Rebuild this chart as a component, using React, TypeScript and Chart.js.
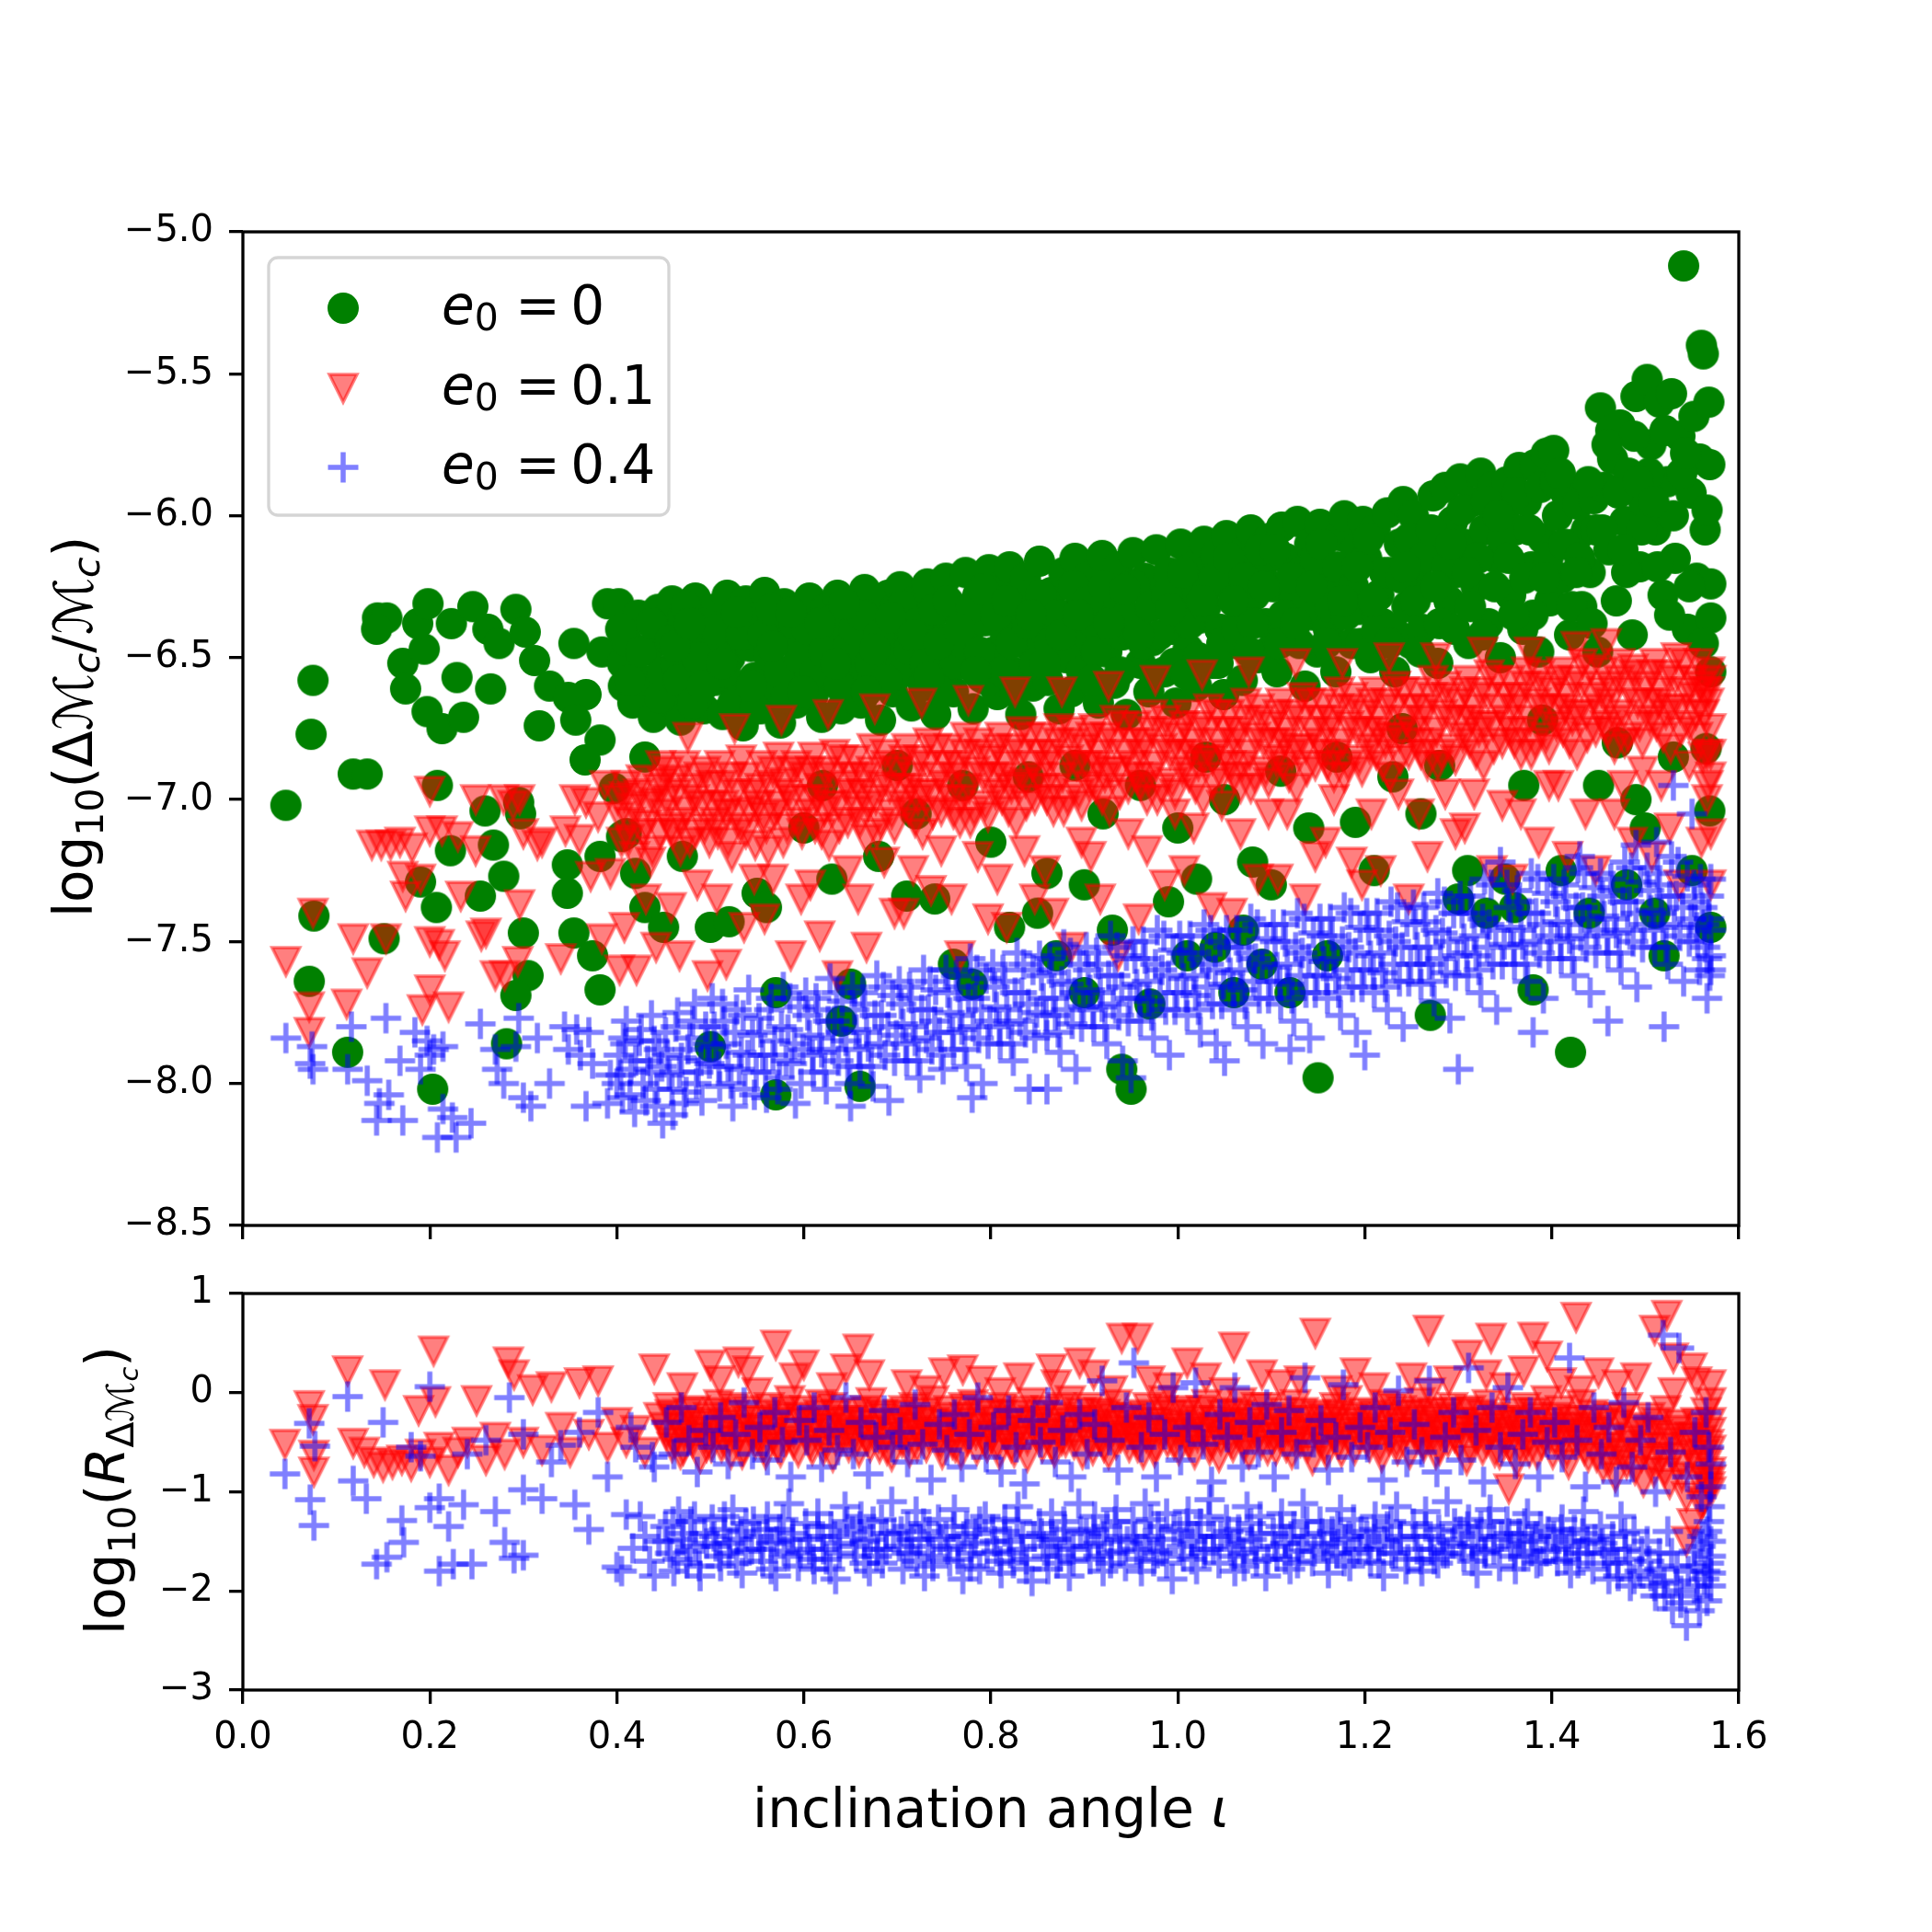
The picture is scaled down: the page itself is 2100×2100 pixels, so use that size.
import { useEffect, useRef } from 'react'
import { Chart, registerables } from 'chart.js'

Chart.register(...registerables)

type Pt = [number, number]

const X_TICKS = [0, 0.2, 0.4, 0.6, 0.8, 1.0, 1.2, 1.4, 1.6]
const TOP_Y_TICKS = [-8.5, -8.0, -7.5, -7.0, -6.5, -6.0, -5.5, -5.0]
const BOT_Y_TICKS = [-3, -2, -1, 0, 1]
const E0_VALUES = ['0', '0.1', '0.4']

// top panel: log10(dMc/Mc) for e0 = 0
const GREEN_TOP: Pt[] = [
  [0.046,-7.02],[0.075,-6.58],[0.073,-6.77],[0.076,-7.41],[0.071,-7.64],[0.112,-7.89],[0.118,-6.91],[0.133,-6.91],
  [0.151,-7.49],[0.144,-6.36],[0.154,-6.36],[0.143,-6.40],[0.171,-6.52],[0.174,-6.61],[0.194,-6.47],[0.187,-6.38],
  [0.198,-6.31],[0.197,-6.69],[0.213,-6.75],[0.236,-6.71],[0.223,-6.38],[0.229,-6.57],[0.246,-6.32],[0.262,-6.40],
  [0.265,-6.61],[0.274,-6.45],[0.292,-6.33],[0.302,-6.41],[0.312,-6.51],[0.317,-6.74],[0.328,-6.60],[0.348,-6.64],
  [0.367,-6.63],[0.356,-6.72],[0.354,-6.45],[0.384,-6.48],[0.382,-6.79],[0.366,-6.86],[0.39,-6.31],[0.407,-6.60],
  [0.208,-6.95],[0.203,-8.02],[0.259,-7.04],[0.295,-7.01],[0.297,-7.05],[0.222,-7.18],[0.268,-7.16],[0.19,-7.29],
  [0.207,-7.38],[0.254,-7.34],[0.279,-7.27],[0.3,-7.47],[0.305,-7.62],[0.292,-7.69],[0.347,-7.23],[0.347,-7.33],
  [0.354,-7.47],[0.374,-7.55],[0.382,-7.20],[0.397,-6.96],[0.405,-7.13],[0.382,-7.67],[0.282,-7.86],
  [0.402,-6.31],[0.406,-6.52],[0.411,-6.44],[0.417,-6.66],[0.423,-6.35],[0.428,-6.58],[0.434,-6.47],[0.439,-6.71],[0.444,-6.33],[0.448,-6.55],
  [0.452,-6.40],[0.455,-6.65],[0.459,-6.30],[0.463,-6.52],[0.468,-6.72],[0.471,-6.36],[0.476,-6.47],[0.479,-6.60],[0.484,-6.29],[0.488,-6.41],[0.493,-6.68],[0.497,-6.53],
  [0.502,-6.33],[0.505,-6.58],[0.509,-6.45],[0.513,-6.70],[0.518,-6.28],[0.521,-6.50],[0.526,-6.38],[0.531,-6.63],[0.535,-6.74],[0.538,-6.30],[0.543,-6.46],[0.547,-6.57],
  [0.551,-6.36],[0.554,-6.68],[0.558,-6.27],[0.562,-6.49],[0.567,-6.60],[0.571,-6.40],[0.575,-6.73],[0.579,-6.31],[0.583,-6.55],[0.588,-6.44],[0.592,-6.66],[0.597,-6.35],
  [0.602,-6.52],[0.606,-6.29],[0.61,-6.63],[0.614,-6.42],[0.619,-6.71],[0.623,-6.33],[0.627,-6.56],[0.632,-6.47],[0.636,-6.28],[0.64,-6.68],[0.645,-6.39],[0.649,-6.58],
  [0.652,-6.31],[0.656,-6.50],[0.661,-6.66],[0.665,-6.26],[0.669,-6.43],[0.673,-6.59],[0.678,-6.35],[0.682,-6.72],[0.686,-6.48],[0.69,-6.28],[0.695,-6.62],[0.698,-6.40],
  [0.703,-6.25],[0.707,-6.55],[0.711,-6.38],[0.715,-6.67],[0.72,-6.30],[0.724,-6.47],[0.728,-6.60],[0.732,-6.24],[0.737,-6.41],[0.741,-6.70],[0.745,-6.33],[0.749,-6.53],
  [0.752,-6.22],[0.756,-6.45],[0.76,-6.62],[0.764,-6.33],[0.769,-6.52],[0.773,-6.20],[0.777,-6.40],[0.781,-6.68],[0.786,-6.28],[0.79,-6.57],[0.794,-6.37],[0.798,-6.19],
  [0.803,-6.48],[0.807,-6.63],[0.811,-6.25],[0.815,-6.41],[0.82,-6.18],[0.824,-6.55],[0.828,-6.33],[0.832,-6.70],[0.837,-6.22],[0.841,-6.46],[0.845,-6.60],[0.849,-6.30],
  [0.852,-6.16],[0.856,-6.40],[0.861,-6.58],[0.865,-6.27],[0.869,-6.50],[0.873,-6.68],[0.878,-6.20],[0.882,-6.35],[0.886,-6.62],[0.89,-6.15],[0.895,-6.45],[0.898,-6.29],
  [0.902,-6.55],[0.906,-6.21],[0.911,-6.38],[0.915,-6.66],[0.919,-6.14],[0.924,-6.48],[0.928,-6.30],[0.932,-6.59],[0.936,-6.18],[0.941,-6.42],[0.945,-6.70],[0.949,-6.25],
  [0.952,-6.13],[0.956,-6.36],[0.96,-6.52],[0.965,-6.22],[0.969,-6.62],[0.973,-6.44],[0.977,-6.12],[0.982,-6.30],[0.986,-6.55],[0.99,-6.20],[0.994,-6.40],[0.998,-6.66],
  [1.003,-6.10],[1.007,-6.28],[1.011,-6.47],[1.015,-6.18],[1.02,-6.60],[1.024,-6.36],[1.028,-6.09],[1.032,-6.25],[1.037,-6.52],[1.041,-6.14],[1.045,-6.40],[1.049,-6.63],
  [1.052,-6.07],[1.056,-6.22],[1.061,-6.45],[1.065,-6.32],[1.069,-6.58],[1.073,-6.12],[1.078,-6.05],[1.082,-6.28],[1.086,-6.50],[1.09,-6.18],[1.094,-6.38],[1.098,-6.08],
  [1.102,-6.25],[1.106,-6.55],[1.111,-6.04],[1.115,-6.15],[1.119,-6.42],[1.124,-6.30],[1.128,-6.02],[1.132,-6.20],[1.136,-6.60],[1.141,-6.10],[1.145,-6.35],[1.149,-6.48],
  [1.152,-6.03],[1.156,-6.17],[1.161,-6.40],[1.165,-6.27],[1.169,-6.55],[1.173,-6.07],[1.178,-6.00],[1.182,-6.22],[1.186,-6.45],[1.19,-6.12],[1.194,-6.33],[1.198,-6.02],
  [1.202,-6.15],[1.206,-6.50],[1.211,-6.05],[1.215,-6.28],[1.219,-6.38],[1.224,-5.99],[1.228,-6.20],[1.232,-6.55],[1.237,-6.10],[1.241,-5.95],[1.245,-6.32],[1.249,-6.45],
  [1.252,-6.00],[1.256,-6.18],[1.261,-6.40],[1.265,-6.08],[1.269,-6.25],[1.273,-5.93],[1.278,-6.52],[1.282,-6.12],[1.286,-5.90],[1.29,-6.30],[1.294,-6.02],[1.298,-6.20],
  [1.302,-5.87],[1.306,-6.10],[1.311,-6.45],[1.315,-5.95],[1.319,-6.25],[1.324,-5.85],[1.328,-6.05],[1.332,-6.38],[1.337,-5.90],[1.341,-6.15],[1.345,-6.50],[1.349,-5.98],
  [1.352,-5.88],[1.356,-6.28],[1.361,-6.05],[1.365,-5.83],[1.369,-6.40],[1.373,-5.95],[1.378,-6.18],[1.382,-5.82],[1.386,-6.48],[1.39,-6.08],[1.394,-5.78],[1.398,-6.30],
  [1.402,-5.77],[1.406,-6.00],[1.411,-6.22],[1.415,-5.92],[1.419,-6.42],[1.424,-6.10],[1.428,-5.96],[1.432,-6.32],[1.437,-6.05],[1.441,-6.20],[1.445,-5.94],[1.449,-6.48],
  [1.452,-5.62],[1.456,-5.90],[1.461,-6.12],[1.465,-5.80],[1.469,-6.30],[1.473,-5.68],[1.478,-6.02],[1.482,-5.85],[1.486,-6.42],[1.49,-5.58],[1.494,-6.18],[1.498,-5.95],
  [1.502,-5.52],[1.506,-5.75],[1.511,-6.05],[1.515,-5.60],[1.519,-6.28],[1.524,-5.88],[1.528,-5.57],[1.532,-6.15],[1.537,-5.72],[1.541,-5.12],[1.545,-6.40],[1.549,-5.92],
  [1.552,-5.65],[1.555,-6.22],[1.558,-5.80],[1.56,-5.40],[1.562,-5.43],[1.564,-6.05],[1.566,-5.98],[1.568,-5.60],[1.569,-5.82],[1.57,-6.24],[1.57,-6.36],[1.57,-6.55],[1.569,-7.04],[1.57,-7.45],[1.565,-6.82],[1.562,-6.45],
  [0.404,-6.40],[0.414,-6.58],[0.426,-6.48],[0.437,-6.38],[0.446,-6.64],
  [0.457,-6.44],[0.466,-6.58],[0.474,-6.32],[0.486,-6.50],[0.495,-6.38],[0.481,-6.66],
  [0.507,-6.40],[0.516,-6.55],[0.524,-6.66],[0.533,-6.42],[0.541,-6.36],[0.548,-6.68],
  [0.556,-6.42],[0.565,-6.33],[0.573,-6.55],[0.581,-6.64],[0.59,-6.38],[0.595,-6.50],
  [0.604,-6.40],[0.612,-6.55],[0.621,-6.48],[0.63,-6.37],[0.638,-6.60],[0.647,-6.47],
  [0.654,-6.40],[0.663,-6.35],[0.671,-6.52],[0.68,-6.42],[0.688,-6.58],[0.697,-6.33],
  [0.705,-6.32],[0.713,-6.47],[0.722,-6.38],[0.73,-6.52],[0.739,-6.33],[0.747,-6.62],
  [0.754,-6.30],[0.762,-6.52],[0.771,-6.45],[0.779,-6.32],[0.788,-6.48],[0.796,-6.58],
  [0.805,-6.35],[0.813,-6.55],[0.822,-6.45],[0.83,-6.28],[0.839,-6.38],[0.847,-6.52],
  [0.854,-6.28],[0.863,-6.45],[0.871,-6.35],[0.88,-6.50],[0.888,-6.25],[0.897,-6.55],
  [0.904,-6.30],[0.913,-6.48],[0.921,-6.25],[0.93,-6.40],[0.938,-6.55],[0.947,-6.35],
  [0.954,-6.25],[0.963,-6.45],[0.971,-6.32],[0.98,-6.42],[0.988,-6.28],[0.996,-6.52],
  [1.005,-6.20],[1.013,-6.38],[1.022,-6.50],[1.03,-6.32],[1.039,-6.22],[1.047,-6.45],
  [1.054,-6.15],[1.063,-6.40],[1.071,-6.22],[1.08,-6.38],[1.088,-6.12],[1.096,-6.48],
  [1.104,-6.12],[1.113,-6.35],[1.121,-6.22],[1.13,-6.45],[1.138,-6.28],[1.147,-6.15],
  [1.154,-6.10],[1.163,-6.32],[1.171,-6.18],[1.18,-6.35],[1.188,-6.25],[1.196,-6.45],
  [1.204,-6.08],[1.213,-6.40],[1.221,-6.20],[1.23,-6.40],[1.239,-6.22],[1.247,-6.08],
  [1.254,-6.30],[1.263,-6.15],[1.271,-6.05],[1.28,-6.38],[1.288,-6.18],[1.296,-6.40],
  [1.304,-5.98],[1.313,-6.32],[1.321,-6.15],[1.33,-5.95],[1.339,-6.25],[1.347,-6.08],
  [1.354,-6.15],[1.363,-5.92],[1.371,-6.22],[1.38,-6.35],[1.388,-5.90],[1.396,-6.15],
  [1.404,-5.88],[1.413,-6.10],[1.421,-6.32],[1.43,-6.15],[1.439,-5.88],[1.447,-6.05],
  [1.454,-6.05],[1.463,-5.70],[1.471,-5.92],[1.48,-6.20],[1.488,-5.72],[1.496,-6.05],
  [1.504,-5.85],[1.513,-6.18],[1.521,-5.70],[1.53,-6.00],[1.539,-5.85],[1.547,-6.25],
  [0.462,-6.46],[0.478,-6.38],[0.492,-6.60],[0.512,-6.52],[0.528,-6.34],[0.544,-6.60],[0.566,-6.46],[0.586,-6.34],
  [0.599,-6.62],[0.617,-6.38],[0.634,-6.52],[0.643,-6.31],[0.667,-6.62],[0.676,-6.47],[0.693,-6.36],[0.717,-6.42],
  [0.734,-6.57],[0.744,-6.45],[0.766,-6.40],[0.784,-6.55],[0.792,-6.26],[0.817,-6.30],[0.826,-6.62],[0.843,-6.35],
  [0.858,-6.52],[0.875,-6.42],[0.893,-6.35],[0.909,-6.58],[0.926,-6.38],[0.943,-6.26],[0.958,-6.42],[0.975,-6.56],
  [0.992,-6.33],[1.009,-6.56],[1.026,-6.30],[1.043,-6.52],[1.059,-6.30],[1.076,-6.48],[1.092,-6.25],[1.109,-6.45],
  [1.126,-6.38],[1.143,-6.25],[1.159,-6.45],[1.176,-6.30],[1.192,-6.18],[1.209,-6.30],[1.226,-6.45],[1.243,-6.18],
  [1.259,-6.48],[1.276,-6.25],[1.292,-6.10],[1.309,-6.20],[1.326,-6.42],[1.343,-6.00],[1.359,-6.35],[1.376,-6.05],
  [1.392,-6.22],[1.409,-5.85],[1.426,-6.20],[1.443,-6.38],[1.459,-5.75],[1.476,-6.12],[1.492,-5.88],[1.509,-5.95],
  [1.526,-6.35],[1.543,-5.78],
  [0.41,-7.12],[0.42,-7.26],[0.43,-6.85],[0.43,-7.38],[0.45,-7.45],[0.47,-7.20],[0.50,-7.45],[0.50,-7.87],
  [0.52,-7.43],[0.55,-7.33],[0.56,-7.38],[0.57,-8.04],[0.57,-7.68],[0.60,-7.10],[0.62,-6.95],[0.63,-7.28],
  [0.64,-7.78],[0.65,-7.65],[0.66,-8.01],[0.68,-7.20],[0.70,-6.88],[0.71,-7.34],[0.72,-7.05],[0.74,-7.35],
  [0.76,-7.58],[0.77,-6.95],[0.78,-7.65],[0.80,-7.15],[0.82,-7.45],[0.84,-6.92],[0.85,-7.40],[0.86,-7.26],
  [0.87,-7.55],[0.89,-6.88],[0.90,-7.30],[0.90,-7.68],[0.92,-7.05],[0.93,-7.46],[0.94,-7.95],[0.95,-8.02],
  [0.96,-6.95],[0.97,-7.72],[0.99,-7.36],[1.00,-7.10],[1.01,-7.55],[1.02,-7.28],[1.03,-6.85],[1.04,-7.52],
  [1.05,-7.00],[1.06,-7.68],[1.07,-7.46],[1.08,-7.22],[1.09,-7.58],[1.10,-7.30],[1.11,-6.90],[1.12,-7.68],
  [1.14,-7.10],[1.15,-7.98],[1.16,-7.55],[1.17,-6.85],[1.19,-7.08],[1.21,-7.25],[1.23,-6.92],[1.24,-6.75],
  [1.26,-7.05],[1.27,-7.76],[1.28,-6.88],[1.30,-7.35],[1.31,-7.25],[1.33,-7.40],[1.35,-7.28],[1.36,-7.38],
  [1.37,-6.95],[1.38,-7.67],[1.39,-6.72],[1.41,-7.25],[1.42,-7.89],[1.44,-7.40],[1.45,-6.95],[1.47,-6.80],
  [1.48,-7.30],[1.49,-7.00],[1.50,-7.10],[1.51,-7.40],[1.52,-7.55],[1.53,-6.85],[1.55,-7.25],
]

// top panel: e0 = 0.1
const RED_TOP: Pt[] = [
  [0.046,-7.57],[0.075,-7.40],[0.071,-7.73],[0.071,-7.82],[0.111,-7.72],[0.118,-7.49],[0.133,-7.61],[0.138,-7.16],
  [0.148,-7.16],[0.158,-7.16],[0.168,-7.15],[0.181,-7.17],[0.171,-7.27],[0.174,-7.34],[0.153,-7.49],[0.192,-7.74],
  [0.22,-7.73],[0.2,-6.97],[0.2,-7.11],[0.213,-7.11],[0.23,-7.13],[0.19,-7.28],[0.2,-7.50],[0.21,-7.51],
  [0.216,-7.55],[0.2,-7.67],[0.233,-7.34],[0.249,-7.18],[0.249,-7.00],[0.279,-7.00],[0.289,-7.02],[0.296,-7.00],
  [0.26,-7.47],[0.255,-7.48],[0.27,-7.62],[0.28,-7.62],[0.294,-7.57],[0.296,-7.37],[0.3,-7.12],[0.315,-7.16],
  [0.32,-7.15],[0.34,-7.56],[0.355,-7.00],[0.367,-7.01],[0.387,-6.95],[0.38,-7.06],[0.345,-7.11],[0.36,-7.14],
  [0.372,-7.27],[0.393,-7.26],[0.384,-7.49],[0.403,-7.60],
  [0.401,-7.00],[0.405,-7.15],[0.41,-6.95],[0.414,-7.08],[0.419,-7.20],[0.423,-6.98],[0.428,-7.12],[0.433,-7.02],[0.438,-7.18],[0.444,-6.96],[0.408,-7.45],[0.421,-7.60],[0.431,-7.35],[0.442,-7.52],[0.447,-6.88],
  [0.451,-7.05],[0.455,-6.90],[0.46,-7.12],[0.464,-6.98],[0.469,-7.08],[0.473,-6.88],[0.478,-7.15],[0.483,-7.00],[0.488,-6.92],[0.494,-7.10],[0.458,-7.38],[0.467,-7.55],[0.476,-6.78],[0.486,-7.30],[0.497,-7.62],
  [0.501,-6.95],[0.505,-7.08],[0.51,-6.88],[0.514,-7.02],[0.519,-7.15],[0.523,-6.92],[0.528,-7.05],[0.533,-6.86],[0.538,-7.12],[0.544,-6.98],[0.507,-7.35],[0.517,-7.58],[0.526,-6.75],[0.536,-7.45],[0.547,-7.28],
  [0.551,-7.02],[0.555,-6.88],[0.56,-7.10],[0.564,-6.95],[0.569,-7.05],[0.573,-6.85],[0.578,-7.15],[0.583,-6.98],[0.588,-6.90],[0.594,-7.08],[0.558,-7.42],[0.567,-7.28],[0.576,-6.72],[0.586,-7.55],[0.597,-7.35],
  [0.601,-6.92],[0.605,-7.05],[0.61,-6.85],[0.614,-7.00],[0.619,-7.12],[0.623,-6.90],[0.628,-7.02],[0.633,-6.84],[0.638,-7.10],[0.644,-6.95],[0.607,-7.30],[0.617,-7.48],[0.626,-6.70],[0.636,-7.62],[0.647,-7.25],
  [0.651,-6.98],[0.655,-6.86],[0.66,-7.08],[0.664,-6.92],[0.669,-7.02],[0.673,-6.82],[0.678,-7.12],[0.683,-6.95],[0.688,-6.88],[0.694,-7.05],[0.658,-7.35],[0.667,-7.52],[0.676,-6.68],[0.686,-7.22],[0.697,-7.40],
  [0.701,-6.90],[0.705,-7.02],[0.71,-6.82],[0.714,-6.96],[0.719,-7.08],[0.723,-6.86],[0.728,-6.98],[0.733,-6.80],[0.738,-7.05],[0.744,-6.92],[0.707,-7.40],[0.717,-7.25],[0.726,-6.66],[0.736,-7.32],[0.747,-7.18],
  [0.751,-6.95],[0.755,-6.82],[0.76,-7.05],[0.764,-6.88],[0.769,-7.00],[0.773,-6.78],[0.778,-7.08],[0.783,-6.90],[0.788,-6.84],[0.794,-7.02],[0.758,-7.35],[0.767,-7.55],[0.776,-6.65],[0.786,-7.20],[0.797,-7.42],
  [0.801,-6.86],[0.805,-6.98],[0.81,-6.78],[0.814,-6.92],[0.819,-7.04],[0.823,-6.82],[0.828,-6.95],[0.833,-6.76],[0.838,-7.02],[0.844,-6.88],[0.807,-7.28],[0.817,-7.45],[0.826,-6.62],[0.836,-7.18],[0.847,-7.35],
  [0.851,-6.92],[0.855,-6.78],[0.86,-7.00],[0.864,-6.84],[0.869,-6.96],[0.873,-6.75],[0.878,-7.04],[0.883,-6.86],[0.888,-6.80],[0.894,-6.98],[0.858,-7.25],[0.867,-7.40],[0.876,-6.62],[0.886,-7.52],[0.897,-7.15],
  [0.901,-6.82],[0.905,-6.95],[0.91,-6.75],[0.914,-6.88],[0.919,-7.00],[0.923,-6.78],[0.928,-6.90],[0.933,-6.72],[0.938,-6.98],[0.944,-6.84],[0.907,-7.20],[0.917,-7.35],[0.926,-6.60],[0.936,-7.55],[0.947,-7.12],
  [0.951,-6.88],[0.955,-6.74],[0.96,-6.95],[0.964,-6.80],[0.969,-6.92],[0.973,-6.70],[0.978,-7.00],[0.983,-6.82],[0.988,-6.76],[0.994,-6.94],[0.958,-7.42],[0.967,-7.18],[0.976,-6.58],[0.986,-7.30],[0.997,-7.05],
  [1.001,-6.78],[1.005,-6.90],[1.01,-6.70],[1.014,-6.84],[1.019,-6.96],[1.023,-6.74],[1.028,-6.86],[1.033,-6.68],[1.038,-6.94],[1.044,-6.80],[1.007,-7.25],[1.017,-7.10],[1.026,-6.56],[1.036,-7.38],[1.047,-7.02],
  [1.051,-6.84],[1.055,-6.70],[1.06,-6.92],[1.064,-6.76],[1.069,-6.88],[1.073,-6.66],[1.078,-6.96],[1.083,-6.78],[1.088,-6.72],[1.094,-6.90],[1.058,-7.40],[1.067,-7.12],[1.076,-6.55],[1.086,-7.28],[1.097,-7.05],
  [1.101,-6.74],[1.105,-6.86],[1.11,-6.66],[1.114,-6.80],[1.119,-6.92],[1.123,-6.70],[1.128,-6.82],[1.133,-6.64],[1.138,-6.90],[1.144,-6.76],[1.107,-7.28],[1.117,-7.05],[1.126,-6.52],[1.136,-7.35],[1.147,-7.20],
  [1.151,-6.80],[1.155,-6.66],[1.16,-6.88],[1.164,-6.72],[1.169,-6.84],[1.173,-6.62],[1.178,-6.92],[1.183,-6.74],[1.188,-6.68],[1.194,-6.86],[1.158,-7.15],[1.167,-7.00],[1.176,-6.52],[1.186,-7.22],[1.197,-7.30],
  [1.201,-6.70],[1.205,-6.82],[1.21,-6.62],[1.214,-6.76],[1.219,-6.88],[1.223,-6.66],[1.228,-6.78],[1.233,-6.60],[1.238,-6.86],[1.244,-6.72],[1.207,-7.05],[1.217,-7.25],[1.226,-6.50],[1.236,-6.98],[1.247,-7.35],
  [1.251,-6.76],[1.255,-6.62],[1.26,-6.84],[1.264,-6.68],[1.269,-6.80],[1.273,-6.58],[1.278,-6.88],[1.283,-6.70],[1.288,-6.64],[1.294,-6.82],[1.258,-7.05],[1.267,-7.20],[1.276,-6.50],[1.286,-6.98],[1.297,-7.12],
  [1.301,-6.66],[1.305,-6.78],[1.31,-6.58],[1.314,-6.72],[1.319,-6.84],[1.323,-6.62],[1.328,-6.74],[1.333,-6.56],[1.338,-6.82],[1.344,-6.68],[1.307,-7.10],[1.317,-6.98],[1.326,-6.48],[1.336,-7.25],[1.347,-7.02],
  [1.351,-6.72],[1.355,-6.58],[1.36,-6.80],[1.364,-6.64],[1.369,-6.76],[1.373,-6.55],[1.378,-6.84],[1.383,-6.66],[1.388,-6.60],[1.394,-6.78],[1.358,-7.28],[1.367,-7.05],[1.376,-6.48],[1.386,-7.15],[1.397,-6.95],
  [1.401,-6.62],[1.405,-6.74],[1.41,-6.55],[1.414,-6.68],[1.419,-6.80],[1.423,-6.58],[1.428,-6.70],[1.433,-6.52],[1.438,-6.78],[1.444,-6.64],[1.407,-6.95],[1.417,-7.20],[1.426,-6.46],[1.436,-7.05],[1.447,-7.25],
  [1.451,-6.68],[1.455,-6.55],[1.46,-6.76],[1.464,-6.60],[1.469,-6.72],[1.473,-6.52],[1.478,-6.80],[1.483,-6.62],[1.488,-6.56],[1.494,-6.74],[1.458,-6.45],[1.467,-7.05],[1.476,-6.95],[1.486,-7.15],[1.497,-6.90],
  [1.501,-6.60],[1.505,-6.72],[1.51,-6.52],[1.514,-6.66],[1.519,-6.78],[1.523,-6.56],[1.528,-6.68],[1.533,-6.50],[1.538,-6.76],[1.544,-6.62],[1.507,-7.20],[1.517,-6.95],[1.526,-7.10],[1.536,-7.30],[1.547,-6.88],
  [1.551,-6.58],[1.554,-6.70],[1.557,-6.52],[1.56,-7.15],[1.562,-6.85],[1.565,-6.62],[1.567,-6.95],[1.569,-6.55],[1.57,-6.75],[1.57,-6.92],[1.57,-7.12],[1.57,-7.30],[1.568,-6.62],[1.566,-7.00],
]

// second, denser layer of the e0 = 0.1 band
const RED_TOP_CORE: Pt[] = [
  [0.403,-7.06],[0.408,-6.99],[0.413,-7.14],[0.418,-7.03],[0.426,-6.93],[0.431,-7.09],[0.436,-7.22],[0.441,-7.01],[0.446,-7.12],[0.449,-6.94],
  [0.453,-7.00],[0.458,-7.10],[0.463,-6.93],[0.468,-7.18],[0.474,-7.04],[0.479,-6.96],[0.484,-7.12],[0.49,-7.02],[0.495,-6.90],[0.499,-7.15],
  [0.503,-7.02],[0.508,-7.12],[0.512,-6.95],[0.517,-7.05],[0.523,-7.20],[0.527,-6.98],[0.532,-7.10],[0.538,-6.92],[0.542,-7.04],[0.548,-7.16],
  [0.553,-6.96],[0.557,-7.06],[0.562,-7.18],[0.567,-6.90],[0.573,-7.02],[0.578,-6.94],[0.582,-7.10],[0.587,-7.00],[0.592,-6.88],[0.598,-7.12],
  [0.603,-7.00],[0.607,-6.90],[0.612,-7.10],[0.617,-6.96],[0.622,-7.04],[0.627,-7.16],[0.632,-6.92],[0.637,-7.02],[0.642,-6.86],[0.647,-7.08],
  [0.653,-6.92],[0.657,-7.04],[0.662,-6.98],[0.667,-7.14],[0.672,-6.90],[0.677,-7.00],[0.682,-7.08],[0.687,-6.84],[0.692,-6.96],[0.697,-7.10],
  [0.703,-6.96],[0.707,-6.86],[0.712,-7.04],[0.717,-6.92],[0.722,-7.00],[0.727,-7.12],[0.732,-6.88],[0.737,-6.98],[0.742,-6.82],[0.747,-7.04],
  [0.753,-6.88],[0.757,-7.00],[0.762,-6.92],[0.767,-7.08],[0.772,-6.84],[0.777,-6.96],[0.782,-7.04],[0.787,-6.80],[0.792,-6.92],[0.797,-7.06],
  [0.803,-6.92],[0.807,-6.82],[0.812,-7.00],[0.817,-6.88],[0.822,-6.96],[0.827,-7.08],[0.832,-6.84],[0.837,-6.94],[0.842,-6.78],[0.847,-7.00],
  [0.853,-6.84],[0.857,-6.96],[0.862,-6.88],[0.867,-7.04],[0.872,-6.80],[0.877,-6.92],[0.882,-7.00],[0.887,-6.76],[0.892,-6.88],[0.897,-7.02],
  [0.903,-6.88],[0.907,-6.78],[0.912,-6.96],[0.917,-6.84],[0.922,-6.92],[0.927,-7.04],[0.932,-6.80],[0.937,-6.90],[0.942,-6.74],[0.947,-6.96],
  [0.953,-6.80],[0.957,-6.92],[0.962,-6.84],[0.967,-7.00],[0.972,-6.76],[0.977,-6.88],[0.982,-6.96],[0.987,-6.72],[0.992,-6.84],[0.997,-6.98],
  [1.003,-6.84],[1.007,-6.74],[1.012,-6.92],[1.017,-6.80],[1.022,-6.88],[1.027,-7.00],[1.032,-6.76],[1.037,-6.86],[1.042,-6.70],[1.047,-6.92],
  [1.053,-6.76],[1.057,-6.88],[1.062,-6.80],[1.067,-6.96],[1.072,-6.72],[1.077,-6.84],[1.082,-6.92],[1.087,-6.68],[1.092,-6.80],[1.097,-6.94],
  [1.103,-6.80],[1.107,-6.70],[1.112,-6.88],[1.117,-6.76],[1.122,-6.84],[1.127,-6.96],[1.132,-6.72],[1.137,-6.82],[1.142,-6.66],[1.147,-6.88],
  [1.153,-6.72],[1.157,-6.84],[1.162,-6.76],[1.167,-6.92],[1.172,-6.68],[1.177,-6.80],[1.182,-6.88],[1.187,-6.64],[1.192,-6.76],[1.197,-6.90],
  [1.203,-6.76],[1.207,-6.66],[1.212,-6.84],[1.217,-6.72],[1.222,-6.80],[1.227,-6.92],[1.232,-6.68],[1.237,-6.78],[1.242,-6.62],[1.247,-6.84],
  [1.253,-6.68],[1.257,-6.80],[1.262,-6.72],[1.267,-6.88],[1.272,-6.64],[1.277,-6.76],[1.282,-6.84],[1.287,-6.60],[1.292,-6.72],[1.297,-6.86],
  [1.303,-6.72],[1.307,-6.62],[1.312,-6.80],[1.317,-6.68],[1.322,-6.76],[1.327,-6.88],[1.332,-6.64],[1.337,-6.74],[1.342,-6.58],[1.347,-6.80],
  [1.353,-6.64],[1.357,-6.76],[1.362,-6.68],[1.367,-6.84],[1.372,-6.60],[1.377,-6.72],[1.382,-6.80],[1.387,-6.56],[1.392,-6.68],[1.397,-6.82],
  [1.403,-6.68],[1.407,-6.58],[1.412,-6.76],[1.417,-6.64],[1.422,-6.72],[1.427,-6.84],[1.432,-6.60],[1.437,-6.70],[1.442,-6.54],[1.447,-6.76],
  [1.453,-6.62],[1.457,-6.74],[1.462,-6.66],[1.467,-6.82],[1.472,-6.58],[1.477,-6.70],[1.482,-6.78],[1.487,-6.54],[1.492,-6.66],[1.497,-6.80],
  [1.503,-6.66],[1.507,-6.56],[1.512,-6.74],[1.517,-6.62],[1.522,-6.70],[1.527,-6.82],[1.532,-6.58],[1.537,-6.68],[1.542,-6.52],[1.547,-6.74],
  [1.553,-6.64],[1.556,-6.78],[1.559,-6.60],[1.563,-6.70],[1.566,-6.84],[1.568,-6.66],[1.57,-6.58],[1.57,-6.84],
]

// top panel: e0 = 0.4
const BLUE_TOP: Pt[] = [
  [0.046,-7.84],[0.074,-7.87],[0.072,-7.93],[0.075,-7.95],[0.116,-7.80],[0.112,-7.95],[0.133,-7.99],[0.153,-7.77],
  [0.146,-8.07],[0.156,-8.04],[0.143,-8.13],[0.168,-7.92],[0.171,-8.13],[0.184,-7.82],[0.197,-7.85],[0.204,-7.88],
  [0.214,-7.87],[0.2,-7.90],[0.19,-7.95],[0.208,-8.19],[0.228,-8.19],[0.214,-8.09],[0.224,-8.12],[0.244,-8.14],
  [0.254,-7.79],[0.27,-7.88],[0.272,-7.95],[0.279,-8.0],[0.295,-7.77],[0.292,-7.87],[0.3,-8.05],[0.308,-8.08],
  [0.315,-7.84],[0.328,-8.0],[0.344,-7.80],[0.357,-7.81],[0.37,-7.82],[0.348,-7.88],[0.361,-7.90],[0.374,-7.93],
  [0.367,-8.08],[0.39,-8.07],[0.393,-7.97],[0.4,-8.0],[0.407,-7.84],
  [0.402,-7.90],[0.406,-8.05],[0.41,-7.78],[0.415,-7.95],[0.419,-8.10],[0.424,-7.85],[0.428,-8.00],[0.433,-7.92],[0.437,-7.76],[0.441,-8.08],[0.445,-7.88],[0.449,-8.14],
  [0.452,-7.82],[0.456,-7.97],[0.46,-8.11],[0.465,-7.75],[0.469,-7.91],[0.474,-8.03],[0.478,-7.84],[0.483,-7.72],[0.487,-7.96],[0.491,-8.06],[0.495,-7.80],[0.499,-7.93],
  [0.502,-7.70],[0.506,-7.87],[0.51,-8.01],[0.515,-7.78],[0.519,-7.94],[0.524,-8.08],[0.528,-7.74],[0.533,-7.89],[0.537,-8.02],[0.541,-7.67],[0.545,-7.83],[0.549,-7.96],
  [0.552,-7.77],[0.556,-7.90],[0.56,-8.05],[0.565,-7.70],[0.569,-7.85],[0.574,-7.98],[0.578,-7.66],[0.583,-7.81],[0.587,-7.93],[0.591,-8.07],[0.595,-7.73],[0.599,-7.88],
  [0.602,-7.68],[0.606,-7.83],[0.61,-7.96],[0.615,-7.74],[0.619,-7.89],[0.624,-8.02],[0.628,-7.63],[0.633,-7.78],[0.637,-7.92],[0.641,-7.71],[0.645,-7.85],[0.649,-8.00],
  [0.652,-7.66],[0.656,-7.81],[0.66,-7.94],[0.665,-7.72],[0.669,-7.87],[0.674,-8.01],[0.678,-7.62],[0.683,-7.76],[0.687,-7.90],[0.691,-8.06],[0.695,-7.69],[0.699,-7.83],
  [0.702,-7.64],[0.706,-7.79],[0.71,-7.92],[0.715,-7.70],[0.719,-7.85],[0.724,-7.98],[0.728,-7.60],[0.733,-7.74],[0.737,-7.88],[0.741,-7.67],[0.745,-7.82],[0.749,-7.95],
  [0.752,-7.60],[0.756,-7.75],[0.76,-7.88],[0.765,-7.66],[0.769,-7.81],[0.774,-7.94],[0.778,-7.56],[0.783,-7.70],[0.787,-7.84],[0.791,-8.00],[0.795,-7.63],[0.799,-7.78],
  [0.802,-7.58],[0.806,-7.73],[0.81,-7.86],[0.815,-7.64],[0.819,-7.79],[0.824,-7.92],[0.828,-7.54],[0.833,-7.68],[0.837,-7.82],[0.841,-8.02],[0.845,-7.60],[0.849,-7.75],
  [0.852,-7.55],[0.856,-7.70],[0.86,-7.83],[0.865,-7.61],[0.869,-7.76],[0.874,-7.89],[0.878,-7.51],[0.883,-7.65],[0.887,-7.79],[0.891,-7.95],[0.895,-7.58],[0.899,-7.73],
  [0.902,-7.52],[0.906,-7.67],[0.91,-7.80],[0.915,-7.58],[0.919,-7.73],[0.924,-7.86],[0.928,-7.48],[0.933,-7.62],[0.937,-7.76],[0.941,-7.92],[0.945,-7.55],[0.949,-7.70],
  [0.952,-7.50],[0.956,-7.65],[0.96,-7.78],[0.965,-7.56],[0.969,-7.71],[0.974,-7.84],[0.978,-7.46],[0.983,-7.60],[0.987,-7.74],[0.991,-7.90],[0.995,-7.53],[0.999,-7.68],
  [1.002,-7.48],[1.006,-7.63],[1.01,-7.76],[1.015,-7.54],[1.019,-7.69],[1.024,-7.82],[1.028,-7.44],[1.033,-7.58],[1.037,-7.72],[1.041,-7.86],[1.045,-7.50],[1.049,-7.65],
  [1.052,-7.46],[1.056,-7.61],[1.06,-7.74],[1.065,-7.52],[1.069,-7.67],[1.074,-7.80],[1.078,-7.42],[1.083,-7.56],[1.087,-7.70],[1.091,-7.86],[1.095,-7.49],[1.099,-7.64],
  [1.102,-7.44],[1.106,-7.59],[1.11,-7.72],[1.115,-7.50],[1.119,-7.65],[1.124,-7.78],[1.128,-7.40],[1.133,-7.54],[1.137,-7.68],[1.141,-7.84],[1.145,-7.47],[1.149,-7.62],
  [1.152,-7.42],[1.156,-7.57],[1.16,-7.70],[1.165,-7.48],[1.169,-7.63],[1.174,-7.76],[1.178,-7.38],[1.183,-7.52],[1.187,-7.66],[1.191,-7.82],[1.195,-7.45],[1.199,-7.60],
  [1.202,-7.40],[1.206,-7.55],[1.21,-7.68],[1.215,-7.46],[1.219,-7.61],[1.224,-7.74],[1.228,-7.36],[1.233,-7.50],[1.237,-7.64],[1.241,-7.80],[1.245,-7.43],[1.249,-7.58],
  [1.252,-7.37],[1.256,-7.52],[1.26,-7.65],[1.265,-7.43],[1.269,-7.58],[1.274,-7.71],[1.278,-7.33],[1.283,-7.47],[1.287,-7.61],[1.291,-7.77],[1.295,-7.40],[1.299,-7.55],
  [1.302,-7.34],[1.306,-7.49],[1.31,-7.62],[1.315,-7.40],[1.319,-7.55],[1.324,-7.68],[1.328,-7.28],[1.333,-7.44],[1.337,-7.58],[1.341,-7.74],[1.345,-7.22],[1.349,-7.51],
  [1.352,-7.30],[1.356,-7.45],[1.36,-7.58],[1.365,-7.36],[1.369,-7.51],[1.374,-7.64],[1.378,-7.26],[1.383,-7.40],[1.387,-7.54],[1.391,-7.70],[1.395,-7.33],[1.399,-7.48],
  [1.402,-7.28],[1.406,-7.43],[1.41,-7.56],[1.415,-7.34],[1.419,-7.49],[1.424,-7.62],[1.428,-7.24],[1.433,-7.38],[1.437,-7.52],[1.441,-7.68],[1.445,-7.31],[1.449,-7.46],
  [1.452,-7.26],[1.456,-7.41],[1.46,-7.54],[1.465,-7.32],[1.469,-7.47],[1.474,-7.60],[1.478,-7.22],[1.483,-7.36],[1.487,-7.50],[1.491,-7.66],[1.495,-7.29],[1.499,-7.44],
  [1.502,-7.24],[1.506,-7.39],[1.51,-7.52],[1.515,-7.30],[1.519,-7.45],[1.524,-7.58],[1.528,-7.20],[1.533,-7.34],[1.537,-7.48],[1.541,-7.64],[1.545,-7.27],[1.549,-7.42],
  [1.552,-7.30],[1.555,-7.45],[1.558,-7.60],[1.561,-7.38],[1.564,-7.52],[1.566,-7.70],[1.568,-7.42],[1.57,-7.55],[1.57,-7.28],[1.569,-7.62],
  [1.53,-6.95],[1.55,-7.05],[1.512,-7.15],[1.49,-7.16],[1.43,-7.20],[0.65,-8.08],[0.78,-8.05],[1.30,-7.95],
  [1.20,-7.90],[1.05,-7.92],[0.95,-7.98],[1.12,-7.88],[1.38,-7.82],[1.46,-7.78],[1.52,-7.80],[0.86,-8.02],
]

// second, denser layer of the e0 = 0.4 band
const BLUE_TOP_CORE: Pt[] = [
  [0.404,-7.97],[0.409,-7.86],[0.414,-8.04],[0.42,-7.92],[0.426,-7.81],[0.431,-8.06],[0.436,-7.96],[0.44,-7.85],[0.443,-8.02],[0.448,-7.94],
  [0.454,-7.90],[0.459,-8.02],[0.463,-7.80],[0.467,-7.96],[0.472,-8.07],[0.476,-7.88],[0.481,-7.78],[0.485,-8.00],[0.49,-7.92],[0.497,-7.86],
  [0.504,-7.80],[0.509,-7.94],[0.513,-7.72],[0.517,-7.86],[0.522,-8.00],[0.526,-7.82],[0.531,-7.95],[0.535,-7.76],[0.54,-7.90],[0.547,-8.04],
  [0.554,-7.82],[0.559,-7.96],[0.563,-7.74],[0.567,-7.90],[0.572,-8.02],[0.576,-7.80],[0.581,-7.92],[0.585,-7.70],[0.59,-7.86],[0.597,-8.00],
  [0.604,-7.76],[0.609,-7.90],[0.613,-7.70],[0.617,-7.84],[0.622,-7.96],[0.626,-7.78],[0.631,-7.88],[0.635,-7.68],[0.64,-7.82],[0.647,-7.94],
  [0.654,-7.74],[0.659,-7.88],[0.663,-7.68],[0.667,-7.82],[0.672,-7.94],[0.676,-7.76],[0.681,-7.86],[0.685,-7.66],[0.69,-7.80],[0.697,-7.92],
  [0.704,-7.72],[0.709,-7.86],[0.713,-7.66],[0.717,-7.80],[0.722,-7.92],[0.726,-7.74],[0.731,-7.84],[0.735,-7.64],[0.74,-7.78],[0.747,-7.90],
  [0.754,-7.68],[0.759,-7.82],[0.763,-7.62],[0.767,-7.76],[0.772,-7.88],[0.776,-7.70],[0.781,-7.80],[0.785,-7.60],[0.79,-7.74],[0.797,-7.86],
  [0.804,-7.66],[0.809,-7.80],[0.813,-7.60],[0.817,-7.74],[0.822,-7.86],[0.826,-7.68],[0.831,-7.78],[0.835,-7.58],[0.84,-7.72],[0.847,-7.84],
  [0.854,-7.62],[0.859,-7.76],[0.863,-7.56],[0.867,-7.70],[0.872,-7.82],[0.876,-7.64],[0.881,-7.74],[0.885,-7.54],[0.89,-7.68],[0.897,-7.80],
  [0.904,-7.60],[0.909,-7.74],[0.913,-7.54],[0.917,-7.68],[0.922,-7.80],[0.926,-7.62],[0.931,-7.72],[0.935,-7.52],[0.94,-7.66],[0.947,-7.78],
  [0.954,-7.56],[0.959,-7.70],[0.963,-7.50],[0.967,-7.64],[0.972,-7.76],[0.976,-7.58],[0.981,-7.68],[0.985,-7.48],[0.99,-7.62],[0.997,-7.74],
  [1.004,-7.54],[1.009,-7.68],[1.013,-7.48],[1.017,-7.62],[1.022,-7.74],[1.026,-7.56],[1.031,-7.66],[1.035,-7.46],[1.04,-7.60],[1.047,-7.72],
  [1.054,-7.52],[1.059,-7.66],[1.063,-7.46],[1.067,-7.60],[1.072,-7.72],[1.076,-7.54],[1.081,-7.64],[1.085,-7.44],[1.09,-7.58],[1.097,-7.70],
  [1.104,-7.50],[1.109,-7.64],[1.113,-7.44],[1.117,-7.58],[1.122,-7.70],[1.126,-7.52],[1.131,-7.62],[1.135,-7.42],[1.14,-7.56],[1.147,-7.68],
  [1.154,-7.48],[1.159,-7.62],[1.163,-7.42],[1.167,-7.56],[1.172,-7.68],[1.176,-7.50],[1.181,-7.60],[1.185,-7.40],[1.19,-7.54],[1.197,-7.66],
  [1.204,-7.46],[1.209,-7.60],[1.213,-7.40],[1.217,-7.54],[1.222,-7.66],[1.226,-7.48],[1.231,-7.58],[1.235,-7.38],[1.24,-7.52],[1.247,-7.64],
  [1.254,-7.44],[1.259,-7.58],[1.263,-7.38],[1.267,-7.52],[1.272,-7.64],[1.276,-7.46],[1.281,-7.56],[1.285,-7.36],[1.29,-7.50],[1.297,-7.62],
  [1.304,-7.40],[1.309,-7.54],[1.313,-7.34],[1.317,-7.48],[1.322,-7.60],[1.326,-7.42],[1.331,-7.52],[1.335,-7.30],[1.34,-7.46],[1.347,-7.58],
  [1.354,-7.38],[1.359,-7.52],[1.363,-7.32],[1.367,-7.46],[1.372,-7.58],[1.376,-7.40],[1.381,-7.50],[1.385,-7.28],[1.39,-7.44],[1.397,-7.56],
  [1.404,-7.36],[1.409,-7.50],[1.413,-7.30],[1.417,-7.44],[1.422,-7.56],[1.426,-7.38],[1.431,-7.48],[1.435,-7.26],[1.44,-7.42],[1.447,-7.54],
  [1.454,-7.34],[1.459,-7.48],[1.463,-7.28],[1.467,-7.42],[1.472,-7.54],[1.476,-7.36],[1.481,-7.46],[1.485,-7.24],[1.49,-7.40],[1.497,-7.52],
  [1.504,-7.32],[1.509,-7.46],[1.513,-7.26],[1.517,-7.40],[1.522,-7.52],[1.526,-7.34],[1.531,-7.44],[1.535,-7.22],[1.54,-7.38],[1.547,-7.50],
  [1.553,-7.36],[1.556,-7.50],[1.559,-7.28],[1.563,-7.44],[1.566,-7.56],[1.568,-7.34],[1.57,-7.46],[1.57,-7.60],
]

// bottom panel: log10(R) for e0 = 0.1
const RED_BOT: Pt[] = [
  [0.045,-0.52],[0.071,-0.13],[0.075,-0.27],[0.076,-0.63],[0.076,-0.80],[0.112,0.22],[0.118,-0.51],[0.152,0.08],
  [0.188,-0.18],[0.206,-0.09],[0.204,0.42],[0.13,-0.60],[0.14,-0.70],[0.15,-0.75],[0.16,-0.72],[0.17,-0.68],
  [0.18,-0.74],[0.19,-0.62],[0.20,-0.70],[0.21,-0.55],[0.22,-0.78],[0.23,-0.60],[0.25,-0.08],[0.284,0.31],
  [0.29,0.18],[0.31,0.03],[0.33,0.06],[0.36,0.10],[0.38,0.12],[0.24,-0.50],[0.26,-0.68],[0.27,-0.45],
  [0.28,-0.62],[0.30,-0.50],[0.32,-0.58],[0.34,-0.35],[0.35,-0.60],[0.37,-0.42],[0.39,-0.55],[0.40,-0.30],
  [0.41,-0.50],[0.42,-0.38],[0.44,0.24],[0.43,-0.60],[0.445,-0.25],
  [0.50,0.28],[0.53,0.31],[0.54,0.22],[0.57,0.48],[0.60,0.28],[0.645,0.24],[0.658,0.44],[0.75,0.20],
  [0.77,0.23],[0.865,0.24],[0.895,0.30],[0.94,0.55],[0.957,0.55],[1.01,0.30],[1.06,0.46],[1.147,0.60],
  [1.268,0.63],[1.31,0.38],[1.335,0.55],[1.38,0.56],[1.395,0.37],[1.426,0.76],[1.51,0.63],[1.523,0.78],
  [1.53,0.35],[1.555,0.11],[1.354,-0.97],[1.544,-1.50],[1.55,-1.32],[1.56,-1.13],[1.57,-0.88],
  [0.451,-0.35],[0.455,-0.15],[0.459,-0.55],[0.463,-0.28],[0.468,-0.62],[0.472,-0.42],[0.476,-0.20],[0.481,-0.50],[0.485,-0.33],[0.489,-0.66],[0.494,-0.45],[0.498,-0.25],
  [0.501,-0.55],[0.505,-0.30],[0.509,-0.12],[0.513,-0.48],[0.518,-0.38],[0.522,-0.62],[0.526,-0.22],[0.531,-0.44],[0.535,-0.58],[0.539,-0.18],[0.544,-0.36],[0.548,-0.52],
  [0.551,-0.28],[0.555,-0.45],[0.559,-0.62],[0.563,-0.15],[0.568,-0.35],[0.572,-0.55],[0.576,-0.25],[0.581,-0.48],[0.585,-0.08],[0.589,-0.40],[0.594,-0.60],[0.598,-0.30],
  [0.601,-0.18],[0.605,-0.42],[0.609,-0.58],[0.613,-0.32],[0.618,-0.12],[0.622,-0.50],[0.626,-0.36],[0.631,-0.65],[0.635,-0.22],[0.639,-0.45],[0.644,-0.28],[0.648,-0.55],
  [0.651,-0.40],[0.655,-0.20],[0.659,-0.60],[0.663,-0.32],[0.668,-0.48],[0.672,-0.10],[0.676,-0.38],[0.681,-0.56],[0.685,-0.25],[0.689,-0.44],[0.694,-0.64],[0.698,-0.30],
  [0.701,-0.22],[0.705,-0.50],[0.709,-0.35],[0.713,-0.60],[0.718,-0.15],[0.722,-0.42],[0.726,-0.28],[0.731,-0.55],[0.735,-0.38],[0.739,-0.08],[0.744,-0.48],[0.748,-0.62],
  [0.751,-0.32],[0.755,-0.18],[0.759,-0.52],[0.763,-0.40],[0.768,-0.62],[0.772,-0.25],[0.776,-0.45],[0.781,-0.12],[0.785,-0.58],[0.789,-0.35],[0.794,-0.50],[0.798,-0.22],
  [0.801,-0.45],[0.805,-0.28],[0.809,-0.62],[0.813,-0.15],[0.818,-0.38],[0.822,-0.55],[0.826,-0.22],[0.831,-0.48],[0.835,-0.32],[0.839,-0.65],[0.844,-0.10],[0.848,-0.42],
  [0.851,-0.30],[0.855,-0.55],[0.859,-0.18],[0.863,-0.42],[0.868,-0.60],[0.872,-0.25],[0.876,-0.48],[0.881,-0.35],[0.885,-0.08],[0.889,-0.52],[0.894,-0.28],[0.898,-0.62],
  [0.901,-0.40],[0.905,-0.15],[0.909,-0.58],[0.913,-0.32],[0.918,-0.48],[0.922,-0.22],[0.926,-0.62],[0.931,-0.38],[0.935,-0.12],[0.939,-0.45],[0.944,-0.28],[0.948,-0.55],
  [0.951,-0.25],[0.955,-0.48],[0.959,-0.35],[0.963,-0.62],[0.968,-0.15],[0.972,-0.42],[0.976,-0.55],[0.981,-0.30],[0.985,-0.08],[0.989,-0.50],[0.994,-0.22],[0.998,-0.40],
  [1.001,-0.58],[1.005,-0.32],[1.009,-0.18],[1.013,-0.45],[1.018,-0.62],[1.022,-0.28],[1.026,-0.40],[1.031,-0.12],[1.035,-0.52],[1.039,-0.35],[1.044,-0.65],[1.048,-0.22],
  [1.051,-0.42],[1.055,-0.20],[1.059,-0.55],[1.063,-0.30],[1.068,-0.10],[1.072,-0.48],[1.076,-0.62],[1.081,-0.35],[1.085,-0.25],[1.089,-0.52],[1.094,-0.15],[1.098,-0.40],
  [1.101,-0.30],[1.105,-0.58],[1.109,-0.45],[1.113,-0.20],[1.118,-0.38],[1.122,-0.62],[1.126,-0.12],[1.131,-0.50],[1.135,-0.28],[1.139,-0.42],[1.144,-0.68],[1.148,-0.22],
  [1.151,-0.48],[1.155,-0.25],[1.159,-0.62],[1.163,-0.35],[1.168,-0.15],[1.172,-0.52],[1.176,-0.40],[1.181,-0.08],[1.185,-0.30],[1.189,-0.58],[1.194,-0.45],[1.198,-0.20],
  [1.201,-0.35],[1.205,-0.55],[1.209,-0.22],[1.213,-0.42],[1.218,-0.65],[1.222,-0.12],[1.226,-0.48],[1.231,-0.30],[1.235,-0.58],[1.239,-0.18],[1.244,-0.40],[1.248,-0.62],
  [1.251,-0.28],[1.255,-0.45],[1.259,-0.10],[1.263,-0.55],[1.268,-0.35],[1.272,-0.20],[1.276,-0.62],[1.281,-0.42],[1.285,-0.25],[1.289,-0.50],[1.294,-0.15],[1.298,-0.38],
  [1.301,-0.52],[1.305,-0.30],[1.309,-0.68],[1.313,-0.18],[1.318,-0.45],[1.322,-0.35],[1.326,-0.58],[1.331,-0.12],[1.335,-0.40],[1.339,-0.25],[1.344,-0.62],[1.348,-0.48],
  [1.351,-0.32],[1.355,-0.55],[1.359,-0.20],[1.363,-0.70],[1.368,-0.42],[1.372,-0.15],[1.376,-0.60],[1.381,-0.38],[1.385,-0.25],[1.389,-0.52],[1.394,-0.08],[1.398,-0.45],
  [1.401,-0.62],[1.405,-0.35],[1.409,-0.18],[1.413,-0.50],[1.418,-0.72],[1.422,-0.28],[1.426,-0.42],[1.431,-0.12],[1.435,-0.58],[1.439,-0.35],[1.444,-0.22],[1.448,-0.65],
  [1.451,-0.40],[1.455,-0.75],[1.459,-0.25],[1.463,-0.55],[1.468,-0.85],[1.472,-0.32],[1.476,-0.62],[1.481,-0.15],[1.485,-0.48],[1.489,-0.78],[1.494,-0.38],[1.498,-0.90],
  [1.501,-0.55],[1.505,-0.25],[1.509,-0.80],[1.513,-0.42],[1.518,-0.65],[1.522,-0.18],[1.526,-0.92],[1.531,-0.50],[1.535,-0.32],[1.539,-0.72],[1.544,-1.05],[1.548,-0.45],
  [1.551,-0.62],[1.554,-0.30],[1.557,-0.88],[1.56,-0.48],[1.562,-1.10],[1.565,-0.20],[1.567,-0.70],[1.569,-0.95],[1.57,-0.40],[1.57,-0.58],[1.57,-0.10],[1.57,-1.00],
  [0.47,0.05],[0.51,0.12],[0.55,0.00],[0.59,0.15],[0.63,0.05],[0.67,0.18],[0.71,0.08],[0.73,0.02],
  [0.79,0.12],[0.81,0.00],[0.83,0.15],[0.87,0.08],[0.91,0.18],[0.93,0.02],[0.97,0.12],[0.99,0.05],
  [1.03,0.15],[1.05,0.00],[1.09,0.18],[1.11,0.08],[1.13,0.12],[1.17,0.02],[1.19,0.20],[1.21,0.05],
  [1.25,0.15],[1.27,0.00],[1.29,0.12],[1.33,0.18],[1.35,0.05],[1.37,0.22],[1.41,0.10],[1.43,0.02],
  [1.45,0.20],[1.47,0.08],[1.49,0.15],[1.53,0.00],[1.55,0.25],[1.57,0.08],
]

// second, denser layer of the bottom e0 = 0.1 band
const RED_BOT_CORE: Pt[] = [
  [0.453,-0.42],[0.457,-0.22],[0.462,-0.50],[0.466,-0.35],[0.471,-0.58],[0.475,-0.30],[0.48,-0.45],[0.484,-0.18],[0.489,-0.38],[0.496,-0.55],
  [0.503,-0.40],[0.507,-0.20],[0.512,-0.55],[0.516,-0.32],[0.521,-0.48],[0.525,-0.15],[0.53,-0.36],[0.534,-0.62],[0.539,-0.28],[0.546,-0.45],
  [0.553,-0.38],[0.557,-0.55],[0.562,-0.22],[0.566,-0.45],[0.571,-0.30],[0.575,-0.60],[0.58,-0.18],[0.584,-0.40],[0.589,-0.52],[0.596,-0.25],
  [0.603,-0.30],[0.607,-0.52],[0.612,-0.40],[0.616,-0.22],[0.621,-0.58],[0.625,-0.35],[0.63,-0.15],[0.634,-0.48],[0.639,-0.30],[0.646,-0.42],
  [0.653,-0.28],[0.657,-0.48],[0.662,-0.38],[0.666,-0.18],[0.671,-0.55],[0.675,-0.32],[0.68,-0.45],[0.684,-0.22],[0.689,-0.58],[0.696,-0.40],
  [0.703,-0.35],[0.707,-0.18],[0.712,-0.48],[0.716,-0.28],[0.721,-0.55],[0.725,-0.40],[0.73,-0.20],[0.734,-0.45],[0.739,-0.30],[0.746,-0.52],
  [0.753,-0.42],[0.757,-0.25],[0.762,-0.55],[0.766,-0.35],[0.771,-0.15],[0.775,-0.48],[0.78,-0.30],[0.784,-0.42],[0.789,-0.20],[0.796,-0.55],
  [0.803,-0.35],[0.807,-0.52],[0.812,-0.22],[0.816,-0.45],[0.821,-0.30],[0.825,-0.60],[0.83,-0.38],[0.834,-0.18],[0.839,-0.48],[0.846,-0.28],
  [0.853,-0.45],[0.857,-0.22],[0.862,-0.35],[0.866,-0.55],[0.871,-0.40],[0.875,-0.15],[0.88,-0.50],[0.884,-0.30],[0.889,-0.42],[0.896,-0.20],
  [0.903,-0.28],[0.907,-0.50],[0.912,-0.35],[0.916,-0.20],[0.921,-0.55],[0.925,-0.42],[0.93,-0.25],[0.934,-0.52],[0.939,-0.32],[0.946,-0.45],
  [0.953,-0.38],[0.957,-0.55],[0.962,-0.22],[0.966,-0.45],[0.971,-0.30],[0.975,-0.60],[0.98,-0.40],[0.984,-0.18],[0.989,-0.35],[0.996,-0.52],
  [1.003,-0.42],[1.007,-0.22],[1.012,-0.52],[1.016,-0.35],[1.021,-0.45],[1.025,-0.18],[1.03,-0.38],[1.034,-0.58],[1.039,-0.28],[1.046,-0.48],
  [1.053,-0.32],[1.057,-0.50],[1.062,-0.40],[1.066,-0.22],[1.071,-0.55],[1.075,-0.30],[1.08,-0.45],[1.084,-0.15],[1.089,-0.38],[1.096,-0.58],
  [1.103,-0.45],[1.107,-0.25],[1.112,-0.35],[1.116,-0.55],[1.121,-0.28],[1.125,-0.48],[1.13,-0.40],[1.134,-0.20],[1.139,-0.55],[1.146,-0.35],
  [1.153,-0.38],[1.157,-0.55],[1.162,-0.28],[1.166,-0.45],[1.171,-0.22],[1.175,-0.60],[1.18,-0.35],[1.184,-0.48],[1.189,-0.25],[1.196,-0.40],
  [1.203,-0.48],[1.207,-0.28],[1.212,-0.38],[1.216,-0.55],[1.221,-0.25],[1.225,-0.42],[1.23,-0.15],[1.234,-0.50],[1.239,-0.35],[1.246,-0.22],
  [1.253,-0.40],[1.257,-0.22],[1.262,-0.52],[1.266,-0.32],[1.271,-0.48],[1.275,-0.28],[1.28,-0.58],[1.284,-0.38],[1.289,-0.20],[1.296,-0.45],
  [1.303,-0.38],[1.307,-0.20],[1.312,-0.55],[1.316,-0.30],[1.321,-0.45],[1.325,-0.22],[1.33,-0.50],[1.334,-0.35],[1.339,-0.60],[1.346,-0.28],
  [1.353,-0.45],[1.357,-0.28],[1.362,-0.38],[1.366,-0.55],[1.371,-0.30],[1.375,-0.48],[1.38,-0.20],[1.384,-0.62],[1.389,-0.40],[1.396,-0.30],
  [1.403,-0.48],[1.407,-0.25],[1.412,-0.40],[1.416,-0.60],[1.421,-0.35],[1.425,-0.52],[1.43,-0.28],[1.434,-0.45],[1.439,-0.65],[1.446,-0.38],
  [1.453,-0.55],[1.457,-0.30],[1.462,-0.68],[1.466,-0.45],[1.471,-0.60],[1.475,-0.25],[1.48,-0.72],[1.484,-0.52],[1.489,-0.35],[1.496,-0.65],
  [1.503,-0.40],[1.507,-0.68],[1.512,-0.30],[1.516,-0.55],[1.521,-0.80],[1.525,-0.45],[1.53,-0.65],[1.534,-0.38],[1.539,-0.85],[1.546,-0.55],
  [1.553,-0.45],[1.556,-0.75],[1.559,-0.35],[1.563,-0.62],[1.566,-0.90],[1.568,-0.52],[1.57,-0.80],[1.57,-0.30],
]

// bottom panel: e0 = 0.4
const BLUE_BOT: Pt[] = [
  [0.045,-0.82],[0.071,-0.31],[0.077,-0.54],[0.072,-1.08],[0.076,-1.34],[0.112,-0.04],[0.118,-0.89],[0.132,-1.07],
  [0.15,-0.30],[0.143,-1.73],[0.154,-1.66],[0.17,-1.29],[0.172,-1.51],[0.19,-0.64],[0.20,0.06],[0.21,-1.80],
  [0.225,-1.73],[0.245,-1.73],[0.20,-1.16],[0.21,-1.07],[0.236,-1.13],[0.22,-1.35],[0.27,-1.20],[0.28,-1.51],
  [0.29,-1.67],[0.30,-1.64],[0.285,-0.05],[0.30,-0.42],[0.30,-0.98],[0.32,-1.07],[0.34,-0.53],[0.355,-1.13],
  [0.37,-1.38],[0.38,-0.20],[0.39,-0.85],[0.40,-1.76],[0.41,-1.23],[0.417,-1.57],[0.18,-0.55],[0.24,-0.62],
  [0.26,-0.48],[0.33,-0.70],[0.36,-0.40],[0.42,-0.55],[0.44,-0.75],[0.44,-1.85],[0.43,-1.45],[0.435,-1.70],
  [0.425,-1.25],[0.445,-1.50],[0.405,-1.80],[0.415,-0.35],[0.438,-0.65],
  [0.452,-1.35],[0.457,-1.62],[0.461,-1.80],[0.466,-1.20],[0.47,-1.48],[0.475,-1.72],[0.479,-1.30],[0.484,-1.55],[0.489,-1.85],[0.494,-1.42],
  [0.502,-1.28],[0.506,-1.55],[0.511,-1.75],[0.515,-1.38],[0.52,-1.62],[0.524,-1.18],[0.529,-1.48],[0.534,-1.82],[0.538,-1.32],[0.544,-1.58],
  [0.552,-1.45],[0.556,-1.70],[0.561,-1.25],[0.565,-1.52],[0.57,-1.85],[0.574,-1.38],[0.579,-1.60],[0.584,-1.12],[0.588,-1.48],[0.594,-1.75],
  [0.602,-1.32],[0.606,-1.58],[0.611,-1.78],[0.615,-1.22],[0.62,-1.45],[0.624,-1.68],[0.629,-1.35],[0.634,-1.88],[0.638,-1.52],[0.644,-1.15],
  [0.652,-1.40],[0.656,-1.65],[0.661,-1.25],[0.665,-1.50],[0.67,-1.80],[0.674,-1.30],[0.679,-1.58],[0.684,-1.72],[0.688,-1.42],[0.694,-1.10],
  [0.702,-1.55],[0.706,-1.78],[0.711,-1.35],[0.715,-1.62],[0.72,-1.20],[0.724,-1.48],[0.729,-1.85],[0.734,-1.40],[0.738,-1.65],[0.744,-1.28],
  [0.752,-1.45],[0.756,-1.70],[0.761,-1.18],[0.765,-1.55],[0.77,-1.88],[0.774,-1.35],[0.779,-1.62],[0.784,-1.42],[0.788,-1.78],[0.794,-1.25],
  [0.802,-1.38],[0.806,-1.60],[0.811,-1.82],[0.815,-1.28],[0.82,-1.50],[0.824,-1.72],[0.829,-1.15],[0.834,-1.45],[0.838,-1.68],[0.844,-1.90],
  [0.852,-1.32],[0.856,-1.55],[0.861,-1.78],[0.865,-1.22],[0.87,-1.48],[0.874,-1.65],[0.879,-1.38],[0.884,-1.85],[0.888,-1.58],[0.894,-1.12],
  [0.902,-1.42],[0.906,-1.68],[0.911,-1.25],[0.915,-1.52],[0.92,-1.80],[0.924,-1.35],[0.929,-1.62],[0.934,-1.18],[0.938,-1.48],[0.944,-1.75],
  [0.952,-1.30],[0.956,-1.58],[0.961,-1.80],[0.965,-1.12],[0.97,-1.45],[0.974,-1.70],[0.979,-1.35],[0.984,-1.60],[0.988,-1.22],[0.994,-1.88],
  [1.002,-1.40],[1.006,-1.65],[1.011,-1.20],[1.015,-1.50],[1.02,-1.78],[1.024,-1.32],[1.029,-1.58],[1.034,-1.08],[1.038,-1.45],[1.044,-1.72],
  [1.052,-1.28],[1.056,-1.55],[1.061,-1.80],[1.065,-1.38],[1.07,-1.62],[1.074,-1.15],[1.079,-1.48],[1.084,-1.70],[1.088,-1.25],[1.094,-1.85],
  [1.102,-1.42],[1.106,-1.65],[1.111,-1.22],[1.115,-1.52],[1.12,-1.78],[1.124,-1.35],[1.129,-1.60],[1.134,-1.12],[1.138,-1.45],[1.144,-1.70],
  [1.152,-1.30],[1.156,-1.55],[1.161,-1.82],[1.165,-1.40],[1.17,-1.62],[1.174,-1.18],[1.179,-1.48],[1.184,-1.75],[1.188,-1.28],[1.194,-1.58],
  [1.202,-1.45],[1.206,-1.70],[1.211,-1.25],[1.215,-1.55],[1.22,-1.85],[1.224,-1.35],[1.229,-1.62],[1.234,-1.15],[1.238,-1.48],[1.244,-1.78],
  [1.252,-1.32],[1.256,-1.58],[1.261,-1.80],[1.265,-1.20],[1.27,-1.45],[1.274,-1.68],[1.279,-1.38],[1.284,-1.62],[1.288,-1.10],[1.294,-1.52],
  [1.302,-1.40],[1.306,-1.65],[1.311,-1.28],[1.315,-1.55],[1.32,-1.82],[1.324,-1.35],[1.329,-1.60],[1.334,-1.18],[1.338,-1.48],[1.344,-1.75],
  [1.352,-1.30],[1.356,-1.55],[1.361,-1.78],[1.365,-1.42],[1.37,-1.65],[1.374,-1.22],[1.379,-1.50],[1.384,-1.72],[1.388,-1.35],[1.394,-1.60],
  [1.402,-1.45],[1.406,-1.70],[1.411,-1.28],[1.415,-1.55],[1.42,-1.82],[1.424,-1.38],[1.429,-1.62],[1.434,-1.20],[1.438,-1.50],[1.444,-1.78],
  [1.452,-1.35],[1.456,-1.62],[1.461,-1.88],[1.465,-1.45],[1.47,-1.72],[1.474,-1.25],[1.479,-1.58],[1.484,-1.95],[1.488,-1.40],[1.494,-1.80],
  [1.502,-1.50],[1.506,-1.85],[1.511,-2.05],[1.515,-1.62],[1.52,-1.92],[1.524,-1.40],[1.529,-2.18],[1.534,-1.75],[1.538,-2.00],[1.544,-2.35],
  [1.552,-1.60],[1.555,-1.95],[1.558,-2.20],[1.561,-1.45],[1.564,-1.80],[1.566,-2.10],[1.568,-1.30],[1.57,-1.65],[1.57,-1.95],[1.569,-1.15],
  [0.453,-0.30],[0.461,-0.62],[0.469,-0.15],[0.477,-0.48],[0.486,-0.80],[0.495,-0.38],
  [0.503,-0.55],[0.511,-0.25],[0.519,-0.72],[0.527,-0.42],[0.536,-0.10],[0.545,-0.62],
  [0.553,-0.35],[0.561,-0.68],[0.569,-0.20],[0.577,-0.50],[0.586,-0.85],[0.595,-0.28],
  [0.603,-0.48],[0.611,-0.15],[0.619,-0.75],[0.627,-0.38],[0.636,-0.58],[0.645,-0.05],
  [0.653,-0.62],[0.661,-0.30],[0.669,-0.82],[0.677,-0.45],[0.686,-0.18],[0.695,-0.55],
  [0.703,-0.40],[0.711,-0.70],[0.719,-0.12],[0.727,-0.52],[0.736,-0.88],[0.745,-0.32],
  [0.753,-0.58],[0.761,-0.22],[0.769,-0.75],[0.777,-0.42],[0.786,-0.05],[0.795,-0.65],
  [0.803,-0.35],[0.811,-0.80],[0.819,-0.18],[0.827,-0.55],[0.836,-0.92],[0.845,-0.28],
  [0.853,-0.50],[0.861,-0.10],[0.869,-0.70],[0.877,-0.38],[0.886,-0.85],[0.895,-0.22],
  [0.903,-0.62],[0.911,-0.32],[0.919,0.12],[0.927,-0.48],[0.936,-0.78],[0.945,-0.15],
  [0.953,0.30],[0.961,-0.55],[0.969,-0.25],[0.977,-0.85],[0.986,-0.42],[0.995,0.05],
  [1.003,-0.68],[1.011,-0.35],[1.019,0.10],[1.027,-0.52],[1.036,-0.90],[1.045,-0.22],
  [1.053,-0.45],[1.061,0.05],[1.069,-0.75],[1.077,-0.30],[1.086,-0.60],[1.095,-0.12],
  [1.103,-0.85],[1.111,-0.40],[1.119,-0.18],[1.127,-0.62],[1.136,0.15],[1.145,-0.50],
  [1.153,-0.28],[1.161,-0.78],[1.169,-0.45],[1.177,0.08],[1.186,-0.65],[1.195,-0.35],
  [1.203,-0.55],[1.211,-0.15],[1.219,-0.88],[1.227,-0.40],[1.236,0.02],[1.245,-0.70],
  [1.253,-0.32],[1.261,-0.60],[1.269,0.12],[1.277,-0.80],[1.286,-0.45],[1.295,-0.20],
  [1.303,-0.68],[1.311,0.25],[1.319,-0.38],[1.327,-0.90],[1.336,-0.15],[1.345,-0.55],
  [1.353,0.05],[1.361,-0.72],[1.369,-0.42],[1.377,-0.20],[1.386,-0.85],[1.395,-0.50],
  [1.403,-0.30],[1.411,-0.65],[1.419,0.35],[1.427,-0.48],[1.436,-0.95],[1.445,-0.15],
  [1.453,-0.62],[1.461,-0.35],[1.469,-0.90],[1.477,-0.10],[1.486,-0.75],[1.495,-0.48],
  [1.503,-0.25],[1.511,-1.00],[1.519,0.58],[1.527,-0.60],[1.536,0.45],[1.545,-0.85],
  [1.553,-0.40],[1.56,-1.05],[1.565,-0.20],[1.57,-0.72],[1.57,-0.95],[1.568,-0.55],
]

// second, denser layer of the lower e0 = 0.4 band
const BLUE_BOT_CORE: Pt[] = [
  [0.454,-1.50],[0.46,-1.30],[0.465,-1.68],[0.471,-1.42],[0.478,-1.60],[0.483,-1.25],[0.488,-1.75],[0.496,-1.52],
  [0.504,-1.45],[0.51,-1.65],[0.515,-1.25],[0.521,-1.52],[0.528,-1.72],[0.533,-1.40],[0.538,-1.60],[0.546,-1.30],
  [0.554,-1.58],[0.56,-1.38],[0.565,-1.78],[0.571,-1.50],[0.578,-1.28],[0.583,-1.65],[0.588,-1.42],[0.596,-1.62],
  [0.604,-1.48],[0.61,-1.68],[0.615,-1.35],[0.621,-1.58],[0.628,-1.78],[0.633,-1.45],[0.638,-1.62],[0.646,-1.30],
  [0.654,-1.55],[0.66,-1.35],[0.665,-1.72],[0.671,-1.48],[0.678,-1.65],[0.683,-1.28],[0.688,-1.58],[0.696,-1.42],
  [0.704,-1.40],[0.71,-1.62],[0.715,-1.48],[0.721,-1.70],[0.728,-1.32],[0.733,-1.55],[0.738,-1.75],[0.746,-1.48],
  [0.754,-1.58],[0.76,-1.35],[0.765,-1.68],[0.771,-1.45],[0.778,-1.75],[0.783,-1.52],[0.788,-1.30],[0.796,-1.62],
  [0.804,-1.50],[0.81,-1.70],[0.815,-1.40],[0.821,-1.62],[0.828,-1.30],[0.833,-1.58],[0.838,-1.78],[0.846,-1.45],
  [0.854,-1.42],[0.86,-1.65],[0.865,-1.48],[0.871,-1.72],[0.878,-1.30],[0.883,-1.55],[0.888,-1.70],[0.896,-1.40],
  [0.904,-1.55],[0.91,-1.38],[0.915,-1.65],[0.921,-1.45],[0.928,-1.72],[0.933,-1.30],[0.938,-1.60],[0.946,-1.50],
  [0.954,-1.45],[0.96,-1.68],[0.965,-1.52],[0.971,-1.28],[0.978,-1.62],[0.983,-1.48],[0.988,-1.72],[0.996,-1.38],
  [1.004,-1.55],[1.01,-1.32],[1.015,-1.68],[1.021,-1.45],[1.028,-1.62],[1.033,-1.25],[1.038,-1.58],[1.046,-1.45],
  [1.054,-1.40],[1.06,-1.65],[1.065,-1.50],[1.071,-1.75],[1.078,-1.32],[1.083,-1.58],[1.088,-1.42],[1.096,-1.68],
  [1.104,-1.55],[1.11,-1.35],[1.115,-1.68],[1.121,-1.45],[1.128,-1.72],[1.133,-1.52],[1.138,-1.30],[1.146,-1.60],
  [1.154,-1.42],[1.16,-1.65],[1.165,-1.52],[1.171,-1.35],[1.178,-1.70],[1.183,-1.45],[1.188,-1.62],[1.196,-1.40],
  [1.204,-1.58],[1.21,-1.38],[1.215,-1.72],[1.221,-1.50],[1.228,-1.30],[1.233,-1.62],[1.238,-1.45],[1.246,-1.68],
  [1.254,-1.45],[1.26,-1.68],[1.265,-1.35],[1.271,-1.58],[1.278,-1.72],[1.283,-1.48],[1.288,-1.62],[1.296,-1.32],
  [1.304,-1.55],[1.31,-1.35],[1.315,-1.70],[1.321,-1.45],[1.328,-1.62],[1.333,-1.30],[1.338,-1.58],[1.346,-1.45],
  [1.354,-1.42],[1.36,-1.65],[1.365,-1.50],[1.371,-1.32],[1.378,-1.60],[1.383,-1.45],[1.388,-1.70],[1.396,-1.40],
  [1.404,-1.58],[1.41,-1.38],[1.415,-1.68],[1.421,-1.50],[1.428,-1.72],[1.433,-1.42],[1.438,-1.62],[1.446,-1.48],
  [1.454,-1.52],[1.46,-1.72],[1.465,-1.58],[1.471,-1.85],[1.478,-1.42],[1.483,-1.68],[1.488,-1.88],[1.496,-1.60],
  [1.504,-1.70],[1.51,-1.95],[1.515,-1.78],[1.521,-2.05],[1.528,-1.62],[1.533,-1.90],[1.538,-2.12],[1.546,-1.80],
  [1.553,-1.75],[1.556,-2.05],[1.559,-1.55],[1.563,-1.88],[1.566,-1.40],[1.568,-1.72],[1.57,-1.50],[1.57,-1.82],
]

const FONT = "'DejaVu Sans', sans-serif"

type Run = { t: string; px: number; it?: boolean; dy?: number }

function drawRuns(ctx: CanvasRenderingContext2D, runs: Run[], x: number, y: number, rotate: boolean, center: boolean) {
  const font = (r: Run) => `${r.it ? 'italic ' : ''}${r.px}px ${FONT}`
  ctx.save()
  ctx.translate(x, y)
  if (rotate) ctx.rotate(-Math.PI / 2)
  ctx.fillStyle = '#000'
  ctx.textAlign = 'left'
  ctx.textBaseline = 'alphabetic'
  let w = 0
  for (const r of runs) {
    ctx.font = font(r)
    w += ctx.measureText(r.t).width
  }
  let cx = center ? -w / 2 : 0
  for (const r of runs) {
    ctx.font = font(r)
    ctx.fillText(r.t, cx, r.dy || 0)
    cx += ctx.measureText(r.t).width
  }
  ctx.restore()
}

function makeMarker(kind: 'circle' | 'tri' | 'plus'): HTMLCanvasElement {
  const c = document.createElement('canvas')
  c.width = 46
  c.height = 46
  const g = c.getContext('2d')!
  const m = 23
  if (kind === 'circle') {
    g.fillStyle = '#008000'
    g.beginPath()
    g.arc(m, m, 17, 0, Math.PI * 2)
    g.fill()
  } else if (kind === 'tri') {
    const h = 15
    g.beginPath()
    g.moveTo(m - h, m - h)
    g.lineTo(m + h, m - h)
    g.lineTo(m, m + h)
    g.closePath()
    g.fillStyle = 'rgba(255,0,0,0.5)'
    g.fill()
    g.lineWidth = 3.5
    g.lineJoin = 'miter'
    g.strokeStyle = 'rgba(255,0,0,0.5)'
    g.stroke()
  } else {
    const h = 16.5
    g.beginPath()
    g.moveTo(m - h, m)
    g.lineTo(m + h, m)
    g.moveTo(m, m - h)
    g.lineTo(m, m + h)
    g.lineWidth = 5.5
    g.strokeStyle = 'rgba(0,0,255,0.5)'
    g.stroke()
  }
  return c
}

const toXY = (pts: Pt[]) => pts.map(([x, y]) => ({ x, y }))

const minus = (v: number, d: number) => (v < 0 ? '\u2212' : '') + Math.abs(v).toFixed(d)

function scales(yTicks: number[], yMin: number, yMax: number, digits: number, showX: boolean) {
  const tickFont = { family: FONT, size: 40 }
  const grid = { drawOnChartArea: false, drawTicks: true, tickLength: 15, lineWidth: 3.3, color: '#000' }
  return {
    x: {
      type: 'linear' as const,
      min: 0,
      max: 1.6,
      afterBuildTicks: (s: any) => { s.ticks = X_TICKS.map((v) => ({ value: v })) },
      afterFit: (s: any) => { s.height = showX ? 110 : 15 },
      grid,
      border: { display: false },
      ticks: {
        display: showX,
        color: '#000',
        font: tickFont,
        padding: 14,
        autoSkip: false,
        maxRotation: 0,
        callback: (v: any) => Number(v).toFixed(1),
      },
    },
    y: {
      type: 'linear' as const,
      min: yMin,
      max: yMax,
      afterBuildTicks: (s: any) => { s.ticks = yTicks.map((v) => ({ value: v })) },
      afterFit: (s: any) => { s.width = 264 },
      grid,
      border: { display: false },
      ticks: {
        color: '#000',
        font: tickFont,
        padding: 17,
        autoSkip: false,
        callback: (v: any) => minus(Number(v), digits),
      },
    },
  }
}

export default function App() {
  const topRef = useRef<HTMLCanvasElement>(null)
  const botRef = useRef<HTMLCanvasElement>(null)

  useEffect(() => {
    if (!topRef.current || !botRef.current) return
    const mk = { circle: makeMarker('circle'), tri: makeMarker('tri'), plus: makeMarker('plus') }

    const frame = {
      id: 'frame',
      afterDatasetsDraw(chart: any) {
        const a = chart.chartArea
        const ctx = chart.ctx
        ctx.save()
        ctx.strokeStyle = '#000'
        ctx.lineWidth = 3.3
        ctx.strokeRect(a.left, a.top, a.right - a.left, a.bottom - a.top)
        ctx.restore()
      },
    }

    const topDeco = {
      id: 'topDeco',
      afterDraw(chart: any) {
        const ctx: CanvasRenderingContext2D = chart.ctx
        drawRuns(ctx, [
          { t: 'log', px: 58 }, { t: '10', px: 41, dy: 12 }, { t: '(\u0394', px: 58 }, { t: '\u2133', px: 58 },
          { t: 'c', px: 41, it: true, dy: 8 }, { t: '/', px: 58 }, { t: '\u2133', px: 58 },
          { t: 'c', px: 41, it: true, dy: 8 }, { t: ')', px: 58 },
        ], 100, 790, true, true)

        // legend box
        const lx = 292, ly = 280, lw = 435, lh = 280, r = 10
        ctx.save()
        ctx.beginPath()
        ctx.moveTo(lx + r, ly)
        ctx.arcTo(lx + lw, ly, lx + lw, ly + lh, r)
        ctx.arcTo(lx + lw, ly + lh, lx, ly + lh, r)
        ctx.arcTo(lx, ly + lh, lx, ly, r)
        ctx.arcTo(lx, ly, lx + lw, ly, r)
        ctx.closePath()
        ctx.fillStyle = 'rgba(255,255,255,0.8)'
        ctx.fill()
        ctx.lineWidth = 3.3
        ctx.strokeStyle = '#d5d5d5'
        ctx.stroke()
        ctx.restore()
        const icons = [mk.circle, mk.tri, mk.plus]
        const rows = [335, 422, 508]
        rows.forEach((ry, i) => {
          ctx.drawImage(icons[i], 373 - 23, ry - 23)
          drawRuns(ctx, [
            { t: 'e', px: 58, it: true }, { t: '0', px: 41, dy: 7 }, { t: ' =', px: 58 }, { t: ' ', px: 36 },
            { t: E0_VALUES[i], px: 58 },
          ], 480, ry + 17, false, false)
        })
      },
    }

    const botDeco = {
      id: 'botDeco',
      afterDraw(chart: any) {
        const ctx: CanvasRenderingContext2D = chart.ctx
        drawRuns(ctx, [
          { t: 'log', px: 58 }, { t: '10', px: 41, dy: 12 }, { t: '(', px: 58 }, { t: 'R', px: 58, it: true },
          { t: '\u0394\u2133', px: 41, dy: 10 }, { t: 'c', px: 29, it: true, dy: 15 }, { t: ')', px: 58 },
        ], 135, 1620, true, true)
        drawRuns(ctx, [{ t: 'inclination angle ', px: 58 }, { t: '\u03B9', px: 58, it: true }], 1077, 1986, false, true)
      },
    }

    const common = {
      responsive: false,
      maintainAspectRatio: false,
      animation: false as const,
      devicePixelRatio: 1,
      events: [] as any[],
      plugins: { legend: { display: false }, tooltip: { enabled: false } },
    }

    const set = (label: string, pts: Pt[], style: HTMLCanvasElement, order: number) => ({
      label,
      data: toXY(pts),
      pointStyle: style,
      pointRadius: 16,
      pointHoverRadius: 16,
      order,
    })

    const top = new Chart(topRef.current, {
      type: 'scatter',
      data: {
        datasets: [
          set('e0 = 0', GREEN_TOP, mk.circle, 3),
          set('e0 = 0.1', [...RED_TOP, ...RED_TOP_CORE], mk.tri, 2),
          set('e0 = 0.4', [...BLUE_TOP, ...BLUE_TOP_CORE], mk.plus, 1),
        ],
      },
      options: {
        ...common,
        layout: { padding: { left: 0, top: 252, right: 210, bottom: 2100 - 1332 - 15 } },
        scales: scales(TOP_Y_TICKS, -8.5, -5.0, 1, false) as any,
      },
      plugins: [frame, topDeco],
    } as any)

    const bot = new Chart(botRef.current, {
      type: 'scatter',
      data: {
        datasets: [
          set('e0 = 0.1', [...RED_BOT, ...RED_BOT_CORE], mk.tri, 2),
          set('e0 = 0.4', [...BLUE_BOT, ...BLUE_BOT_CORE], mk.plus, 1),
        ],
      },
      options: {
        ...common,
        layout: { padding: { left: 0, top: 1406, right: 210, bottom: 2100 - 1837 - 110 } },
        scales: scales(BOT_Y_TICKS, -3, 1, 0, true) as any,
      },
      plugins: [frame, botDeco],
    } as any)

    return () => {
      top.destroy()
      bot.destroy()
    }
  }, [])

  const cs: React.CSSProperties = { position: 'absolute', left: 0, top: 0, width: 2100, height: 2100 }
  return (
    <div style={{ position: 'absolute', left: 0, top: 0, width: 2100, height: 2100, background: '#fff' }}>
      <canvas ref={topRef} width={2100} height={2100} style={cs} />
      <canvas ref={botRef} width={2100} height={2100} style={cs} />
    </div>
  )
}
